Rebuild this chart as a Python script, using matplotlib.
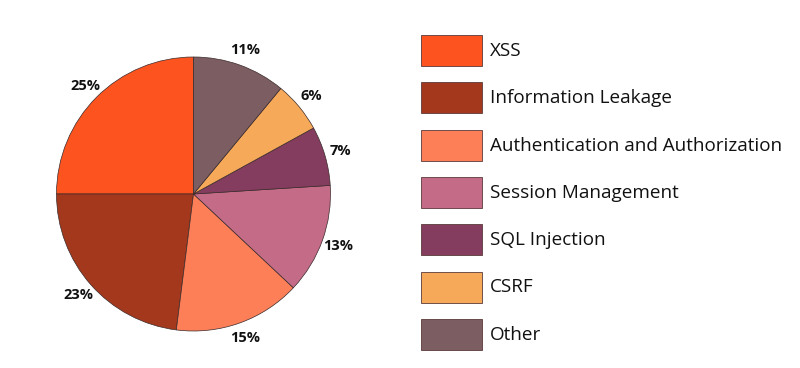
import matplotlib
matplotlib.use("Agg")
from matplotlib import pyplot as plt
from matplotlib.patches import Rectangle

categories = ["XSS", "Information Leakage", "Authentication and Authorization",
              "Session Management", "SQL Injection", "CSRF", "Other"]
shares = [25, 23, 15, 13, 7, 6, 11]
colors = ["#FD531E", "#A4381C", "#FD7F58", "#C46B87", "#843D5E", "#F6AA59", "#7B5D62"]

plt.rcParams['font.family'] = ['Open Sans', 'DejaVu Sans']

W, H = 800, 368
fig = plt.figure(figsize=(W / 100, H / 100), dpi=100)

# pie axes: centre at (193.5, 194) px, radius 137 px
cx, cy, r, lim = 193.5, 194, 137, 1.3
size = 2 * r * lim
ax = fig.add_axes([(cx - size / 2) / W, (H - cy - size / 2) / H, size / W, size / H])
ax.pie(shares, colors=colors, startangle=90, counterclock=True,
       labels=[f"{s}%" for s in shares], labeldistance=1.12,
       wedgeprops=dict(edgecolor="#3a2a2a", linewidth=0.5),
       textprops=dict(fontsize=10.5, fontweight="bold", color="#111111"))
for t in ax.texts:
    t.set_horizontalalignment("center")
    t.set_verticalalignment("center")
ax.set_xlim(-lim, lim)
ax.set_ylim(-lim, lim)
ax.set_aspect("equal")
ax.axis("off")

# legend drawn in pixel coordinates
lg = fig.add_axes([0, 0, 1, 1])
lg.set_xlim(0, W)
lg.set_ylim(H, 0)
lg.axis("off")
for i, (name, c) in enumerate(zip(categories, colors)):
    y0 = 35 + i * 47.3
    lg.add_patch(Rectangle((421, y0), 61, 31, facecolor=c, edgecolor="#5a3a3a", linewidth=0.6))
    lg.text(490, y0 + 16, name, fontsize=13.6, va="center", ha="left", color="#111111")

fig.savefig("out.png", dpi=100)
